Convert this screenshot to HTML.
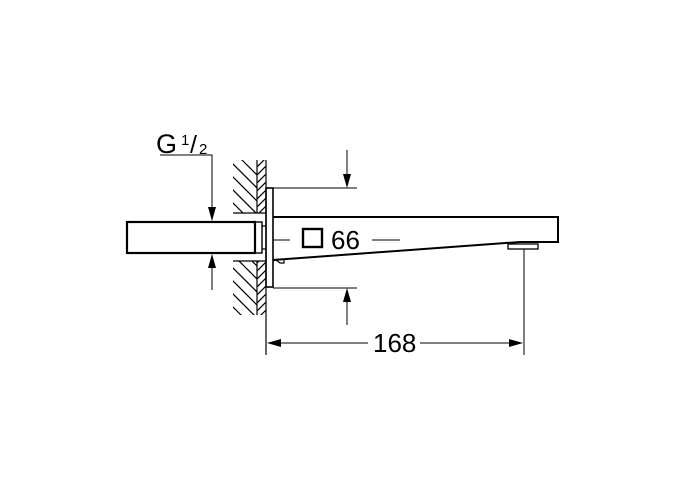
<!DOCTYPE html>
<html><head><style>html,body{margin:0;padding:0;background:#fff}svg{display:block}</style></head><body>
<svg width="681" height="489" viewBox="0 0 681 489" xmlns="http://www.w3.org/2000/svg">
<defs>
<clipPath id="h1"><rect x="233" y="160" width="24" height="53"/><rect x="233" y="261" width="24" height="54"/></clipPath>
<clipPath id="h2"><rect x="257" y="160" width="9" height="53"/><rect x="257" y="261" width="9" height="54"/></clipPath>
</defs>
<g stroke="#000" fill="none" stroke-width="1.2">
<g clip-path="url(#h1)">
<path d="M200 118 l120 120 M200 131 l120 120 M200 144 l120 120 M200 157 l120 120 M200 170 l120 120 M200 183 l120 120 M200 196 l120 120 M200 209 l120 120 M200 222 l120 120 M200 235 l120 120 M200 248 l120 120 M200 261 l120 120 M200 274 l120 120"/>
</g>
<g clip-path="url(#h2)">
<path d="M266 150 l-12 12 M266 158 l-12 12 M266 166 l-12 12 M266 174 l-12 12 M266 182 l-12 12 M266 190 l-12 12 M266 198 l-12 12 M266 206 l-12 12 M266 214 l-12 12 M266 254 l-12 12 M266 262 l-12 12 M266 270 l-12 12 M266 278 l-12 12 M266 286 l-12 12 M266 294 l-12 12 M266 302 l-12 12 M266 310 l-12 12"/>
</g>
<path d="M257 160 V213 M257 261 V315 M233 213 H266 M233 261 H266"/>
<path d="M266 160 V355" stroke-width="1.2"/>
<rect x="266" y="188" width="7" height="99" stroke-width="1.6"/>
<rect x="127" y="222" width="128" height="31" stroke-width="2.2"/>
<rect x="255" y="222" width="7" height="31" stroke-width="1.4"/>
<path d="M262 226 H266 M262 249 H266"/>
<path d="M273 217 H558 V242 H520 L273 260" stroke-width="2"/>
<rect x="508" y="244" width="30" height="5" stroke-width="1.3"/>
<path d="M276 260 l4 3 h4 v-3" stroke-width="1.2"/>
<rect x="303" y="229" width="19" height="18" stroke-width="2.4"/>
<path d="M273 240 H290 M372 240 H400" stroke-width="0.9"/>
<path d="M273 188 H357 M273 288 H357 M347 150 V186 M347 290 V325" stroke-width="1"/>
<path d="M160 155 H212 V220 M212 255 V290 M524 249 V355 M268 343 H368 M420 343 H522" stroke-width="1"/>
</g>
<g fill="#000">
<path d="M347 188 l-4 -14 h8 z M347 288 l-4 14 h8 z M212 221 l-4 -14 h8 z M212 254 l-4 14 h8 z M267 343 l14 -4 v8 z M523 343 l-14 -4 v8 z"/>
</g>
<g font-family="Liberation Sans, Arial, sans-serif" fill="#000">
<text x="156" y="153" font-size="27">G</text>
<text x="181" y="145" font-size="15">1</text>
<text x="190" y="153" font-size="25">/</text>
<text x="199" y="154" font-size="15">2</text>
<text x="331" y="249" font-size="26">66</text>
<text x="373" y="352" font-size="26">168</text>
</g>
</svg>
</body></html>
